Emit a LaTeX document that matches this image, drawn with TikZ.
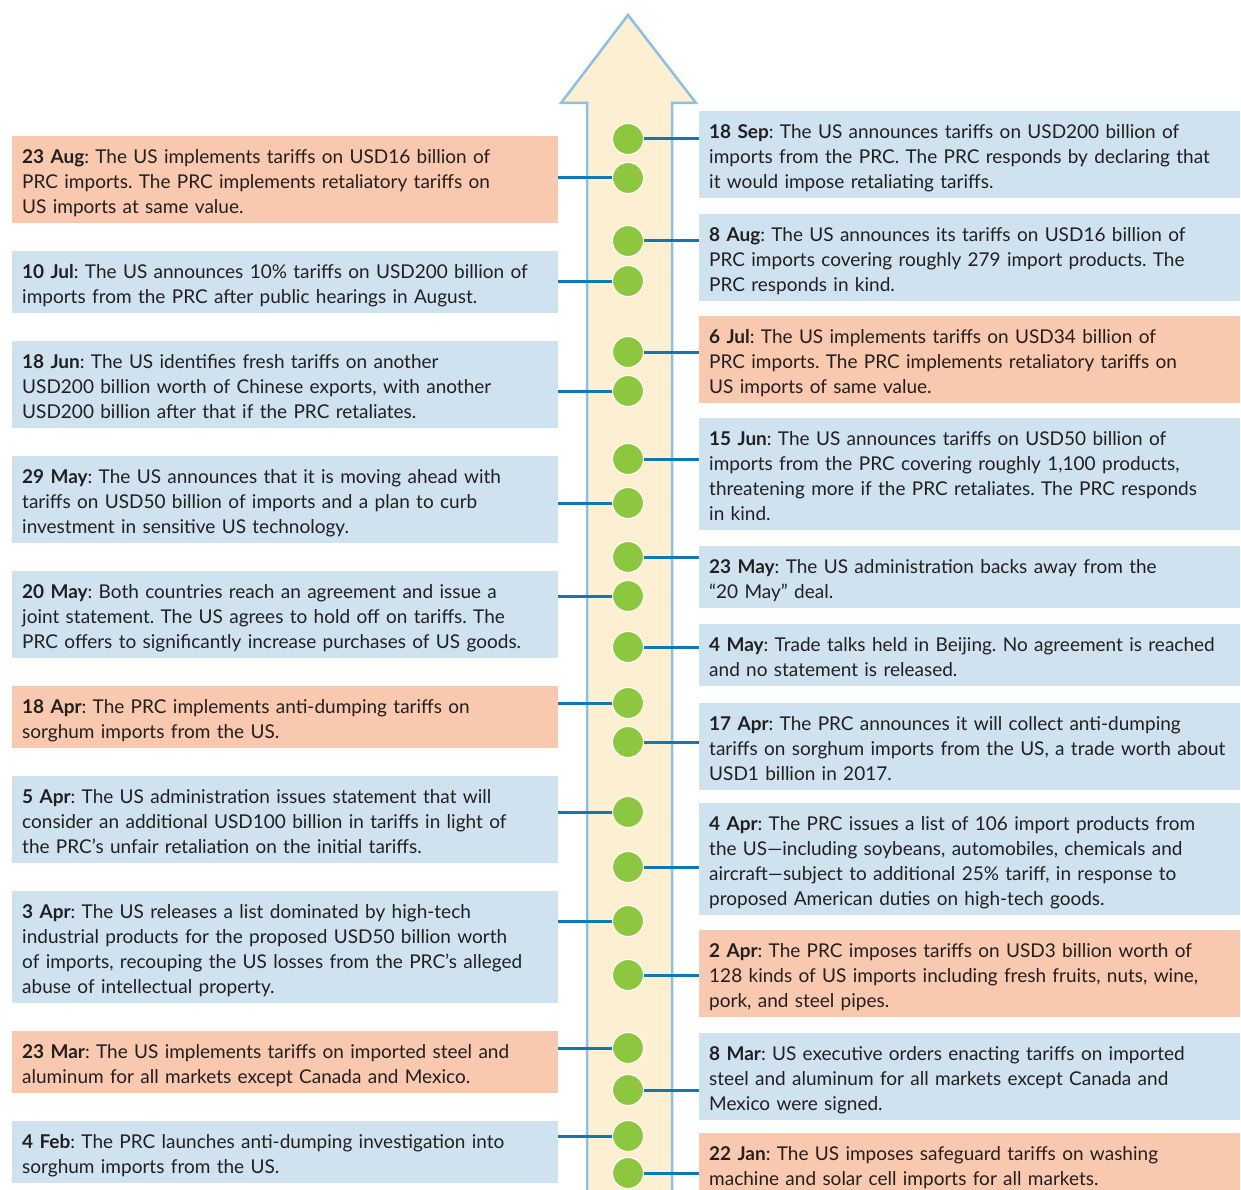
\documentclass[tikz,border=0pt]{standalone}
\usepackage{fontspec}
\setmainfont{Lato}
\usepackage{tikz}
\definecolor{peach}{RGB}{248, 200, 175}
\definecolor{sky}{RGB}{207, 226, 240}
\definecolor{cream}{RGB}{253, 239, 210}
\definecolor{rim}{RGB}{139, 191, 227}
\definecolor{leaf}{RGB}{141, 198, 63}
\definecolor{wire}{RGB}{14, 121, 183}
\definecolor{ink}{RGB}{35, 31, 32}
\newcommand{\tall}{\rule[-3.5pt]{0pt}{25pt}}
\newcommand{\when}[1]{\tall\textbf{#1}}

\begin{document}
\begin{tikzpicture}[x=1pt, y=-1pt,
  event/.style={anchor=north west, inner xsep=10pt, inner ysep=6pt,
    align=left, text=ink, font=\fontsize{19}{25}\selectfont\frenchspacing},
  lbox/.style={event, text width=526pt},
  rbox/.style={event, text width=521pt},
  dot/.style={circle, fill=leaf, draw=white, line width=1pt,
    minimum size=31pt, inner sep=0pt},
  wire/.style={draw=wire, line width=3pt}]
  \useasboundingbox (0, 0) rectangle (1241, 1190);
  \clip (0, 0) rectangle (1241, 1190);

  \pgfmathsetmacro{\lx}{12}
  \pgfmathsetmacro{\rx}{699}

  % the time arrow
  \draw[draw=rim, fill=cream, line width=2.5pt] (587, 1200) -- (587, 103)
    -- (561, 103) -- (628, 15) -- (696, 103) -- (672, 103) -- (672, 1200) -- cycle;

  % left column
  \node[lbox, fill=peach] (aug23) at (\lx, 136) {\when{23 Aug}: The US implements tariffs on USD16 billion of\\
    PRC imports. The PRC implements retaliatory tariffs on\\ US imports at same value.\tall};
  \node[lbox, fill=sky] (jul10) at (\lx, 251) {\when{10 Jul}: The US announces 10\% tariffs on USD200 billion of\\
    imports from the PRC after public hearings in August.\tall};
  \node[lbox, fill=sky] (jun18) at (\lx, 341) {\when{18 Jun}: The US identifies fresh tariffs on another\\
    USD200 billion worth of Chinese exports, with another\\ USD200 billion after that if the PRC retaliates.\tall};
  \node[lbox, fill=sky] (may29) at (\lx, 456) {\when{29 May}: The US announces that it is moving ahead with\\
    tariffs on USD50 billion of imports and a plan to curb\\ investment in sensitive US technology.\tall};
  \node[lbox, fill=sky] (may20) at (\lx, 571) {\when{20 May}: Both countries reach an agreement and issue a\\
    joint statement. The US agrees to hold off on tariffs. The\\ PRC offers to significantly increase purchases of US goods.\tall};
  \node[lbox, fill=peach] (apr18) at (\lx, 686) {\when{18 Apr}: The PRC implements anti-dumping tariffs on\\
    sorghum imports from the US.\tall};
  \node[lbox, fill=sky] (apr5) at (\lx, 776) {\when{5 Apr}: The US administration issues statement that will\\
    consider an additional USD100 billion in tariffs in light of\\ the PRC’s unfair retaliation on the initial tariffs.\tall};
  \node[lbox, fill=sky] (apr3) at (\lx, 891) {\when{3 Apr}: The US releases a list dominated by high-tech\\
    industrial products for the proposed USD50 billion worth\\ of imports, recouping the US losses from the PRC’s alleged\\
    abuse of intellectual property.\tall};
  \node[lbox, fill=peach] (mar23) at (\lx, 1031) {\when{23 Mar}: The US implements tariffs on imported steel and\\
    aluminum for all markets except Canada and Mexico.\tall};
  \node[lbox, fill=sky] (feb4) at (\lx, 1121) {\when{4 Feb}: The PRC launches anti-dumping investigation into\\
    sorghum imports from the US.\tall};

  % right column
  \node[rbox, fill=sky] (sep18) at (\rx, 111) {\when{18 Sep}: The US announces tariffs on USD200 billion of\\
    imports from the PRC. The PRC responds by declaring that\\ it would impose retaliating tariffs.\tall};
  \node[rbox, fill=sky] (aug8) at (\rx, 214) {\when{8 Aug}: The US announces its tariffs on USD16 billion of\\
    PRC imports covering roughly 279 import products. The\\ PRC responds in kind.\tall};
  \node[rbox, fill=peach] (jul6) at (\rx, 316) {\when{6 Jul}: The US implements tariffs on USD34 billion of\\
    PRC imports. The PRC implements retaliatory tariffs on\\ US imports of same value.\tall};
  \node[rbox, fill=sky] (jun15) at (\rx, 418) {\when{15 Jun}: The US announces tariffs on USD50 billion of\\
    imports from the PRC covering roughly 1,100 products,\\ threatening more if the PRC retaliates. The PRC responds\\
    in kind.\tall};
  \node[rbox, fill=sky] (may23) at (\rx, 546) {\when{23 May}: The US administration backs away from the\\
    “20 May” deal.\tall};
  \node[rbox, fill=sky] (may4) at (\rx, 624) {\when{4 May}: Trade talks held in Beijing. No agreement is reached\\
    and no statement is released.\tall};
  \node[rbox, fill=sky] (apr17) at (\rx, 703) {\when{17 Apr}: The PRC announces it will collect anti-dumping\\
    tariffs on sorghum imports from the US, a trade worth about\\ USD1 billion in 2017.\tall};
  \node[rbox, fill=sky] (apr4) at (\rx, 803) {\when{4 Apr}: The PRC issues a list of 106 import products from\\
    the US---including soybeans, automobiles, chemicals and\\ aircraft---subject to additional 25\% tariff, in response to\\
    proposed American duties on high-tech goods.\tall};
  \node[rbox, fill=peach] (apr2) at (\rx, 930) {\when{2 Apr}: The PRC imposes tariffs on USD3 billion worth of\\
    128 kinds of US imports including fresh fruits, nuts, wine,\\ pork, and steel pipes.\tall};
  \node[rbox, fill=sky] (mar8) at (\rx, 1033) {\when{8 Mar}: US executive orders enacting tariffs on imported\\
    steel and aluminum for all markets except Canada and\\ Mexico were signed.\tall};
  \node[rbox, fill=peach] (jan22) at (\rx, 1133) {\when{22 Jan}: The US imposes safeguard tariffs on washing\\
    machine and solar cell imports for all markets.\tall};

  % dots on the arrow
  \node[dot] (d-sep18) at (628, 139) {};
  \node[dot] (d-aug23) at (628, 178) {};
  \node[dot] (d-aug8) at (628, 241) {};
  \node[dot] (d-jul10) at (628, 281) {};
  \node[dot] (d-jul6) at (628, 352) {};
  \node[dot] (d-jun18) at (628, 391) {};
  \node[dot] (d-jun15) at (628, 459) {};
  \node[dot] (d-may29) at (628, 503) {};
  \node[dot] (d-may23) at (628, 557) {};
  \node[dot] (d-may20) at (628, 596) {};
  \node[dot] (d-may4) at (628, 647) {};
  \node[dot] (d-apr18) at (628, 703) {};
  \node[dot] (d-apr17) at (628, 742) {};
  \node[dot] (d-apr5) at (628, 812) {};
  \node[dot] (d-apr4) at (628, 867) {};
  \node[dot] (d-apr3) at (628, 921) {};
  \node[dot] (d-apr2) at (628, 975) {};
  \node[dot] (d-mar23) at (628, 1048) {};
  \node[dot] (d-mar8) at (628, 1090) {};
  \node[dot] (d-feb4) at (628, 1136) {};
  \node[dot] (d-jan22) at (628, 1173) {};

  % connectors
  \draw[wire] (aug23.east |- d-aug23) -- (d-aug23.west);
  \draw[wire] (jul10.east |- d-jul10) -- (d-jul10.west);
  \draw[wire] (jun18.east |- d-jun18) -- (d-jun18.west);
  \draw[wire] (may29.east |- d-may29) -- (d-may29.west);
  \draw[wire] (may20.east |- d-may20) -- (d-may20.west);
  \draw[wire] (apr18.east |- d-apr18) -- (d-apr18.west);
  \draw[wire] (apr5.east |- d-apr5) -- (d-apr5.west);
  \draw[wire] (apr3.east |- d-apr3) -- (d-apr3.west);
  \draw[wire] (mar23.east |- d-mar23) -- (d-mar23.west);
  \draw[wire] (feb4.east |- d-feb4) -- (d-feb4.west);
  \draw[wire] (d-sep18.east) -- (d-sep18 -| sep18.west);
  \draw[wire] (d-aug8.east) -- (d-aug8 -| aug8.west);
  \draw[wire] (d-jul6.east) -- (d-jul6 -| jul6.west);
  \draw[wire] (d-jun15.east) -- (d-jun15 -| jun15.west);
  \draw[wire] (d-may23.east) -- (d-may23 -| may23.west);
  \draw[wire] (d-may4.east) -- (d-may4 -| may4.west);
  \draw[wire] (d-apr17.east) -- (d-apr17 -| apr17.west);
  \draw[wire] (d-apr4.east) -- (d-apr4 -| apr4.west);
  \draw[wire] (d-apr2.east) -- (d-apr2 -| apr2.west);
  \draw[wire] (d-mar8.east) -- (d-mar8 -| mar8.west);
  \draw[wire] (d-jan22.east) -- (d-jan22 -| jan22.west);
\end{tikzpicture}
\end{document}
